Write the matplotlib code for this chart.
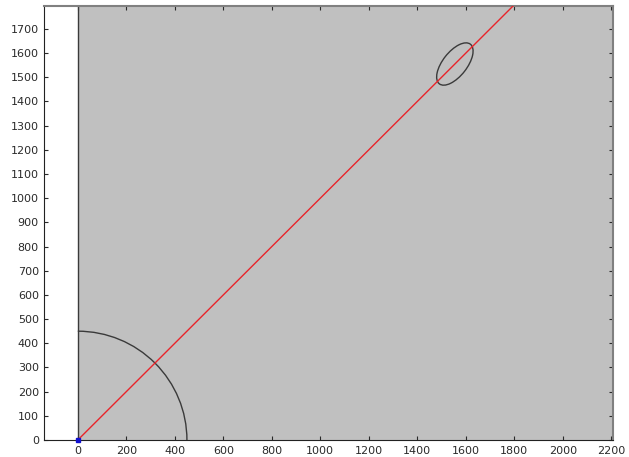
import numpy as np
import matplotlib
matplotlib.use("Agg")
import matplotlib.pyplot as plt
from matplotlib.patches import Rectangle, Arc, Ellipse

# geometry of the scene
region_x = [0, 2210]
region_y = [0, 1800]
arc_radius = 450
ray_x = [0, 1800]
ray_y = [0, 1800]
ellipse_center = [1555, 1555]
ellipse_axes = [208, 100]
ellipse_angle = 52
origin = [0, 0]

x_ticks = list(range(0, 2201, 200))
y_ticks = list(range(0, 1701, 100))

fig = plt.figure(figsize=(6.29, 4.57), dpi=100)
ax = fig.add_axes([0.0705, 0.0372, 0.904, 0.9497])

# shaded domain to the right of the axis line
ax.add_patch(Rectangle((region_x[0], region_y[0]), region_x[1] - region_x[0],
                       region_y[1] - region_y[0], facecolor="#c0c0c0",
                       edgecolor="none", zorder=0))
ax.plot([0, 0], region_y, color="#3a3a3a", lw=1.0, zorder=2)

ax.add_patch(Arc((0, 0), 2 * arc_radius, 2 * arc_radius, theta1=0, theta2=90,
                 color="#3a3a3a", lw=1.0, zorder=2))
ax.add_patch(Ellipse(ellipse_center, ellipse_axes[0], ellipse_axes[1],
                     angle=ellipse_angle, fill=False, edgecolor="#3a3a3a",
                     lw=1.0, zorder=2))
ax.plot(ray_x, ray_y, color="#e8242a", lw=1.0, zorder=3)
ax.plot(origin[0], origin[1], marker="s", ms=3, color="#1010d0", zorder=4,
        clip_on=False)

ax.set_xlim(-138, 2207)
ax.set_ylim(0, 1795)
ax.set_xticks(x_ticks)
ax.set_yticks(y_ticks)
ax.tick_params(direction="in", length=3, labelsize=8, colors="#2a2a2a",
               top=True, right=True, pad=4)
for side in ["left", "bottom"]:
    ax.spines[side].set_color("#222222")
for side in ["top", "right"]:
    ax.spines[side].set_color("#808080")
    ax.spines[side].set_linewidth(1.5)

fig.savefig("out.png", dpi=100)
